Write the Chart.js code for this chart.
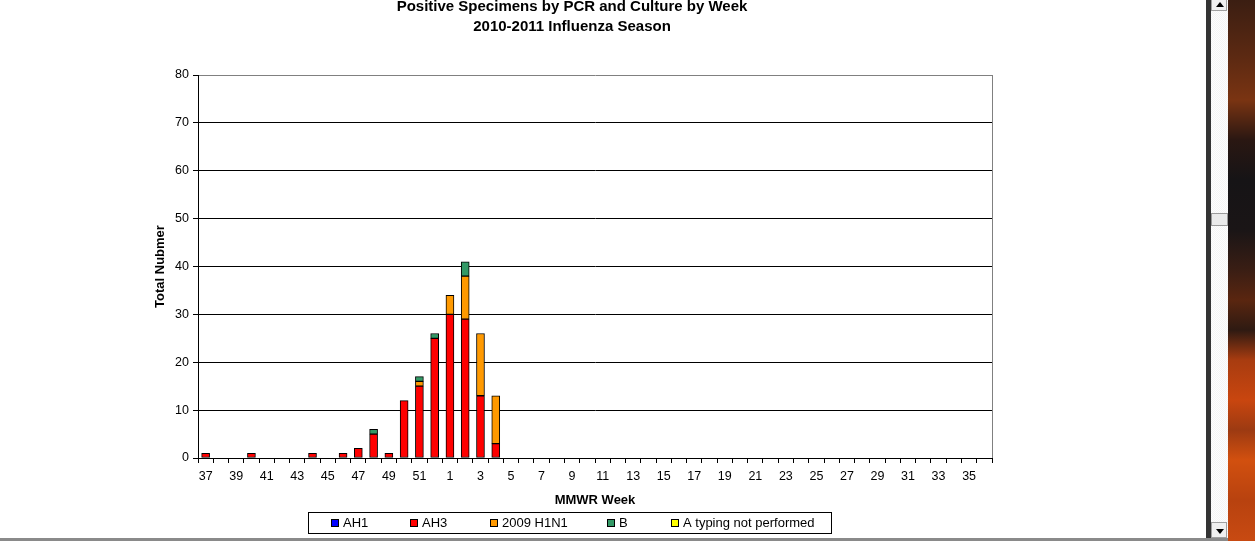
<!DOCTYPE html>
<html>
<head>
<meta charset="utf-8">
<script src="https://cdn.jsdelivr.net/npm/chart.js@4.4.1/dist/chart.umd.min.js"></script>
<style>
  html, body { margin: 0; padding: 0; background: #fff; overflow: hidden; }
  body { width: 1255px; height: 541px; position: relative; }
  #wrap { position: absolute; left: 0; top: 0; width: 1205px; height: 541px; }
  #sbDark { position: absolute; left: 1206px; top: 0; width: 5px; height: 541px; background: #333; }
  #sbTrack { position: absolute; left: 1211px; top: 0; width: 17px; height: 541px;
    background: repeating-conic-gradient(#f4f4f4 0% 25%, #fdfdfd 0% 50%) 0 0 / 2px 2px; }
  .sbBtn { position: absolute; left: 1211px; width: 16px; height: 15px; background: #f0f0f0;
    border: 1px solid #a0a0a0; box-sizing: border-box; }
  .arrow { position: absolute; left: 4px; width: 0; height: 0; border-left: 4px solid transparent; border-right: 4px solid transparent; }
  #thumb { position: absolute; left: 1211px; top: 213px; width: 17px; height: 13px; background: #eaeaea; border: 1px solid #9a9a9a; box-sizing: border-box; }
  #photo { position: absolute; left: 1228px; top: 0; width: 27px; height: 541px;
    background: linear-gradient(180deg, #3b1e12 0px, #5e2a12 60px, #7a3412 100px, #2a1712 140px, #161416 180px, #1a1516 230px, #3a1e14 270px, #5a2610 300px, #2e1a12 330px, #a83c10 360px, #c9460f 400px, #9c3a12 430px, #d2500f 460px, #b8420f 500px, #c84a12 541px); }
  #bottomLine { position: absolute; left: 0; top: 538px; width: 1228px; height: 3px; background: #8a8a8a; }
</style>
</head>
<body>
<div id="wrap"><canvas id="c"></canvas></div>
<div id="sbDark"></div>
<div id="sbTrack"></div>
<div class="sbBtn" style="top:-4px;height:15px;"><div class="arrow" style="top:5px;border-bottom:5px solid #000;"></div></div>
<div id="thumb"></div>
<div class="sbBtn" style="top:522px;height:16px;"><div class="arrow" style="top:6px;border-top:5px solid #000;"></div></div>
<div id="photo"></div>
<div id="bottomLine"></div>
<script>
// ---- Data ----
const weeks = [37,38,39,40,41,42,43,44,45,46,47,48,49,50,51,52,
               1,2,3,4,5,6,7,8,9,10,11,12,13,14,15,16,17,18,19,20,21,22,23,24,25,26,27,28,29,30,31,32,33,34,35,36];
const seriesNames = ["AH1", "AH3", "2009 H1N1", "B", "A typing not performed"];
const ah1 =    [0,0,0,0,0,0,0,0,0,0,0,0,0,0,0,0, 0,0,0,0,0,0,0,0,0,0,0,0,0,0,0,0,0,0,0,0,0,0,0,0,0,0,0,0,0,0,0,0,0,0,0,0];
const ah3 =    [1,0,0,1,0,0,0,1,0,1,2,5,1,12,15,25, 30,29,13,3,0,0,0,0,0,0,0,0,0,0,0,0,0,0,0,0,0,0,0,0,0,0,0,0,0,0,0,0,0,0,0,0];
const h1n1 =   [0,0,0,0,0,0,0,0,0,0,0,0,0,0,1,0, 4,9,13,10,0,0,0,0,0,0,0,0,0,0,0,0,0,0,0,0,0,0,0,0,0,0,0,0,0,0,0,0,0,0,0,0];
const fluB =   [0,0,0,0,0,0,0,0,0,0,0,1,0,0,1,1, 0,3,0,0,0,0,0,0,0,0,0,0,0,0,0,0,0,0,0,0,0,0,0,0,0,0,0,0,0,0,0,0,0,0,0,0];
const notTyped=[0,0,0,0,0,0,0,0,0,0,0,0,0,0,0,0, 0,0,0,0,0,0,0,0,0,0,0,0,0,0,0,0,0,0,0,0,0,0,0,0,0,0,0,0,0,0,0,0,0,0,0,0];
const yTicks = [0,10,20,30,40,50,60,70,80];
const titleLines = ["Positive Specimens by PCR and Culture by Week", "2010-2011 Influenza Season"];
const xTitle = "MMWR Week";
const yTitle = "Total Nubmer";

const colors = ["#0000FF", "#FF0000", "#FF9900", "#339966", "#FFFF00"];
const seriesData = [ah1, ah3, h1n1, fluB, notTyped];

const FONT = "Arial, 'Liberation Sans', sans-serif";

const datasets = seriesNames.map((name, i) => ({
  label: name,
  data: seriesData[i].map(v => v === 0 ? null : v),
  backgroundColor: colors[i],
  borderColor: "#000",
  borderWidth: 1,
  borderSkipped: false,
  barThickness: 8,
  stack: "s"
}));

const decor = {
  id: "decor",
  afterDraw(chart) {
    const ctx = chart.ctx;
    const a = chart.chartArea;
    ctx.save();
    // right border of plot area (gray)
    ctx.strokeStyle = "#808080";
    ctx.lineWidth = 1;
    ctx.beginPath();
    ctx.moveTo(Math.round(a.right) + 0.5, a.top);
    ctx.lineTo(Math.round(a.right) + 0.5, a.bottom);
    ctx.stroke();
    // title
    ctx.fillStyle = "#000";
    ctx.font = "bold 15px " + FONT;
    ctx.textAlign = "center";
    ctx.textBaseline = "alphabetic";
    ctx.fillText(titleLines[0], 572, 11);
    ctx.fillText(titleLines[1], 572, 31);
    // legend box
    const lx = 308, ly = 512, lw = 523, lh = 21;
    ctx.strokeStyle = "#000";
    ctx.strokeRect(lx + 0.5, ly + 0.5, lw, lh);
    const itemX = [331, 410, 490, 607, 671];
    ctx.font = "13px " + FONT;
    ctx.textAlign = "left";
    ctx.textBaseline = "middle";
    chart.data.datasets.forEach((ds, i) => {
      const x = itemX[i];
      ctx.fillStyle = ds.backgroundColor;
      ctx.fillRect(x, 519, 8, 8);
      ctx.strokeStyle = "#000";
      ctx.strokeRect(x + 0.5, 519.5, 7, 7);
      ctx.fillStyle = "#000";
      ctx.fillText(ds.label, x + 12, 523.5);
    });
    ctx.restore();
  }
};

new Chart(document.getElementById("c"), {
  type: "bar",
  data: { labels: weeks.map(String), datasets },
  plugins: [decor],
  options: {
    responsive: true,
    maintainAspectRatio: false,
    animation: false,
    layout: { padding: { left: 149, right: 213, top: 75, bottom: 0 } },
    plugins: { legend: { display: false }, title: { display: false }, tooltip: { enabled: false } },
    scales: {
      x: {
        stacked: true,
        offset: true,
        grid: { display: true, offset: true, drawOnChartArea: false, drawTicks: true, tickLength: 5, tickColor: "#000", color: "#000" },
        border: { display: true, color: "#000", width: 1 },
        ticks: {
          autoSkip: false, maxRotation: 0, minRotation: 0, padding: 6,
          color: "#000", font: { family: FONT, size: 12.5 },
          callback: function(v, i) { return i % 2 === 0 ? this.getLabelForValue(v) : ""; }
        },
        title: { display: true, text: xTitle, color: "#000", font: { family: FONT, size: 13, weight: "bold" }, padding: { top: 0, bottom: 33 } },
        afterFit(scale) { scale.height = 83; }
      },
      y: {
        stacked: true,
        min: yTicks[0], max: yTicks[yTicks.length - 1],
        afterBuildTicks(scale) { scale.ticks = yTicks.map(v => ({ value: v })); },
        grid: {
          color: (c) => (c.tick && c.tick.value === 80) ? "#808080" : "#000",
          tickColor: "#000", tickLength: 5, lineWidth: 1, drawTicks: true
        },
        border: { display: true, color: "#000", width: 1 },
        ticks: { color: "#000", padding: 4, font: { family: FONT, size: 12.5 } },
        title: { display: true, text: yTitle, color: "#000", font: { family: FONT, size: 13, weight: "bold" }, padding: { top: 4, bottom: 4 } },
        afterFit(scale) { scale.width = 49; }
      }
    }
  }
});
</script>
</body>
</html>
